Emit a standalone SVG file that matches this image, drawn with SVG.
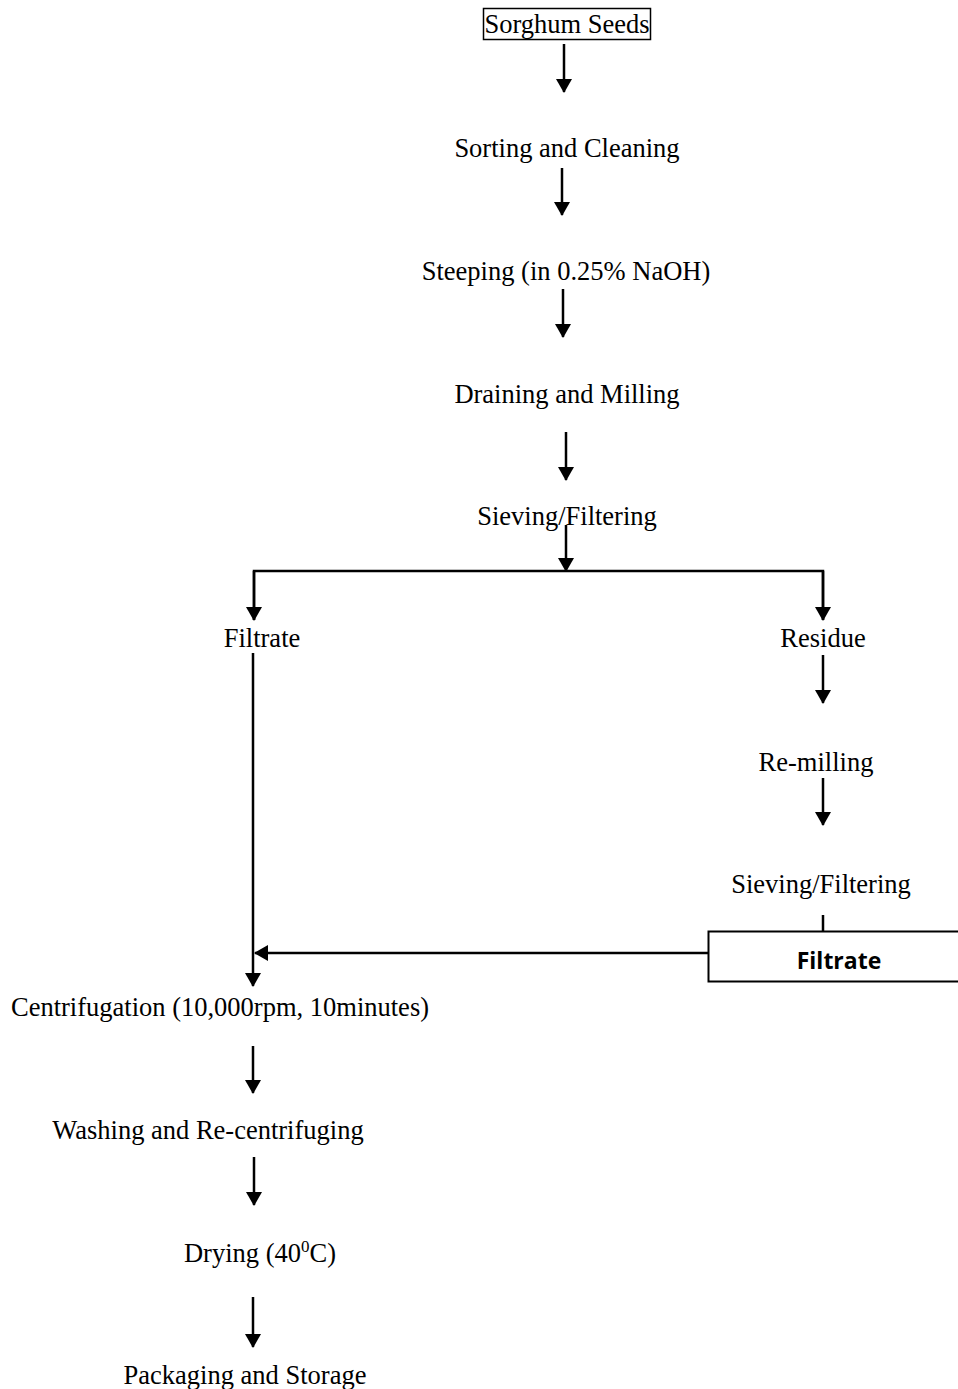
<svg xmlns="http://www.w3.org/2000/svg" width="958" height="1389" viewBox="0 0 958 1389">
<defs>
<style>
.t{font-family:"Liberation Serif","Times New Roman",serif;font-size:26.5px;fill:#000;text-anchor:middle}
.b{font-family:"Open Sans","Liberation Sans",sans-serif;font-size:23px;font-weight:bold;fill:#000;text-anchor:middle}
.c{stroke:#000;stroke-width:2.5;fill:none}
.box{stroke:#000;fill:#fff}
</style>
<marker id="ah" viewBox="0 0 14 16" refX="13" refY="8" markerWidth="14" markerHeight="16" markerUnits="userSpaceOnUse" orient="auto">
<path d="M0,0 L14,8 L0,16 Z" fill="#000"/>
</marker>
</defs>
<rect width="958" height="1389" fill="#fff"/>
<g id="connectors">
<line class="c" x1="564" y1="44" x2="564" y2="92" marker-end="url(#ah)"/>
<line class="c" x1="562" y1="168" x2="562" y2="215" marker-end="url(#ah)"/>
<line class="c" x1="563" y1="289" x2="563" y2="337" marker-end="url(#ah)"/>
<line class="c" x1="566" y1="432" x2="566" y2="480" marker-end="url(#ah)"/>
<line class="c" x1="566" y1="525" x2="566" y2="571" marker-end="url(#ah)"/>
<polyline class="c" points="254,620 254,571 823,571 823,620"/>
<line class="c" x1="254" y1="571" x2="254" y2="620" marker-end="url(#ah)"/>
<line class="c" x1="823" y1="571" x2="823" y2="620" marker-end="url(#ah)"/>
<line class="c" x1="253" y1="653" x2="253" y2="986" marker-end="url(#ah)"/>
<line class="c" x1="823" y1="655" x2="823" y2="703" marker-end="url(#ah)"/>
<line class="c" x1="823" y1="778" x2="823" y2="825" marker-end="url(#ah)"/>
<line class="c" x1="823" y1="915" x2="823" y2="931"/>
<line class="c" x1="708" y1="953" x2="255" y2="953" marker-end="url(#ah)"/>
<line class="c" x1="253" y1="1046" x2="253" y2="1093" marker-end="url(#ah)"/>
<line class="c" x1="254" y1="1157" x2="254" y2="1205" marker-end="url(#ah)"/>
<line class="c" x1="253" y1="1297" x2="253" y2="1347" marker-end="url(#ah)"/>
</g>
<g id="n1"><rect class="box" x="483.5" y="8.5" width="167" height="31" stroke-width="1.5"/><text class="t" x="567" y="33">Sorghum Seeds</text></g>
<g id="n2"><text class="t" x="567" y="157">Sorting and Cleaning</text></g>
<g id="n3"><text class="t" x="566" y="280">Steeping (in 0.25% NaOH)</text></g>
<g id="n4"><text class="t" x="567" y="403">Draining and Milling</text></g>
<g id="n5"><text class="t" x="567" y="525">Sieving/Filtering</text></g>
<g id="n6"><text class="t" x="262" y="647">Filtrate</text></g>
<g id="n7"><text class="t" x="823" y="647">Residue</text></g>
<g id="n8"><text class="t" x="816" y="771">Re-milling</text></g>
<g id="n9"><text class="t" x="821" y="893">Sieving/Filtering</text></g>
<g id="n10"><rect class="box" x="708.5" y="931.5" width="260" height="50" stroke-width="2"/><text class="b" x="839" y="969">Filtrate</text></g>
<g id="n11"><text class="t" x="220" y="1016">Centrifugation (10,000rpm, 10minutes)</text></g>
<g id="n12"><text class="t" x="208" y="1139">Washing and Re-centrifuging</text></g>
<g id="n13"><text class="t" x="260" y="1262">Drying (40<tspan dy="-10" font-size="17">0</tspan><tspan dy="10">C)</tspan></text></g>
<g id="n14"><text class="t" x="245" y="1384">Packaging and Storage</text></g>
</svg>
